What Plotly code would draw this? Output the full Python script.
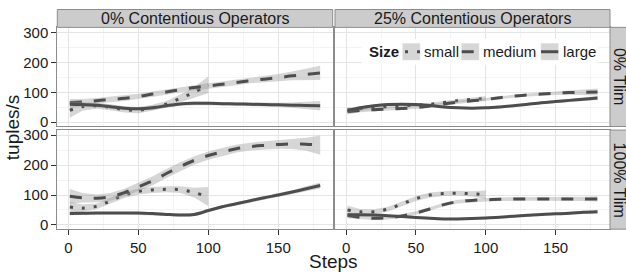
import plotly.graph_objects as go

W, H = 626, 274

# ---------------- data ----------------
steps_long = [1, 10, 20, 30, 40, 50, 60, 70, 80, 90, 100, 110, 120, 130, 140, 150, 160, 170, 180]
steps_short = [1, 10, 20, 30, 40, 50, 60, 70, 80, 90, 100]

sizes = ["small", "medium", "large"]
col_labels = ["0% Contentious Operators", "25% Contentious Operators"]
row_labels = ["0% Tlim", "100% Tlim"]
x_ticks = [0, 50, 100, 150]
y_ticks = [0, 100, 200, 300]

# 0% contentious, 0% Tlim
c0_t0_small = [40, 52, 55, 50, 42, 40, 48, 60, 80, 100, 125]
c0_t0_small_se = [25, 14, 10, 10, 10, 10, 10, 11, 13, 18, 28]
c0_t0_medium = [66, 68, 72, 76, 80, 86, 94, 101, 109, 116, 121, 127, 133, 139, 144, 149, 155, 160, 165]
c0_t0_medium_se = [12, 10, 9, 9, 9, 9, 9, 9, 9, 9, 9, 9, 9, 9, 10, 12, 15, 19, 24]
c0_t0_large = [60, 59, 57, 52, 47, 45, 48, 55, 61, 63, 63, 62, 61, 60, 59, 58, 57, 56, 55]
c0_t0_large_se = [11, 7, 6, 6, 6, 6, 6, 6, 6, 6, 6, 6, 6, 6, 6, 7, 9, 12, 16]

# 25% contentious, 0% Tlim
c25_t0_small = [42, 45, 48, 52, 55, 57, 60, 66, 72, 76, 79]
c25_t0_small_se = [8, 6, 5, 5, 5, 5, 5, 5, 5, 6, 9]
c25_t0_medium = [35, 39, 42, 44, 46, 49, 54, 61, 67, 72, 76, 82, 87, 91, 94, 97, 99, 100, 101]
c25_t0_medium_se = [9, 6, 5, 5, 5, 5, 5, 5, 5, 5, 5, 5, 5, 5, 5, 6, 7, 9, 12]
c25_t0_large = [38, 48, 55, 59, 60, 59, 56, 51, 48, 47, 48, 51, 55, 60, 65, 69, 73, 77, 81]
c25_t0_large_se = [7, 5, 4, 4, 4, 4, 4, 4, 4, 4, 4, 4, 4, 4, 4, 4, 5, 6, 7]

# 0% contentious, 100% Tlim
c0_t100_small = [60, 56, 62, 80, 100, 112, 117, 119, 118, 108, 95]
c0_t100_small_se = [18, 12, 10, 10, 10, 10, 10, 10, 11, 16, 32]
c0_t100_medium = [96, 91, 89, 94, 108, 127, 147, 172, 195, 216, 232, 244, 255, 262, 266, 269, 271, 270, 267]
c0_t100_medium_se = [24, 16, 13, 13, 13, 14, 15, 15, 15, 14, 14, 13, 13, 13, 13, 14, 17, 22, 32]
c0_t100_large = [38, 39, 40, 40, 40, 40, 38, 35, 33, 35, 48, 61, 71, 81, 91, 100, 110, 121, 132]
c0_t100_large_se = [6, 5, 5, 5, 5, 5, 5, 5, 5, 5, 5, 5, 5, 5, 5, 5, 6, 8, 10]

# 25% contentious, 100% Tlim
c25_t100_small = [50, 44, 44, 53, 70, 88, 100, 105, 106, 104, 101]
c25_t100_small_se = [14, 9, 8, 8, 8, 8, 8, 8, 8, 9, 14]
c25_t100_medium = [31, 25, 22, 24, 30, 40, 53, 68, 78, 82, 84, 86, 87, 87, 87, 87, 87, 87, 87]
c25_t100_medium_se = [9, 6, 6, 6, 6, 6, 6, 6, 6, 6, 6, 6, 6, 6, 6, 6, 6, 7, 9]
c25_t100_large = [34, 34, 33, 31, 28, 25, 22, 20, 20, 21, 23, 26, 29, 32, 35, 37, 39, 42, 44]
c25_t100_large_se = [6, 5, 4, 4, 4, 4, 4, 4, 4, 4, 4, 4, 4, 4, 4, 4, 4, 5, 6]

panels = [
    (0, 0, [(steps_short, c0_t0_small, c0_t0_small_se),
            (steps_long, c0_t0_medium, c0_t0_medium_se),
            (steps_long, c0_t0_large, c0_t0_large_se)]),
    (0, 1, [(steps_short, c25_t0_small, c25_t0_small_se),
            (steps_long, c25_t0_medium, c25_t0_medium_se),
            (steps_long, c25_t0_large, c25_t0_large_se)]),
    (1, 0, [(steps_short, c0_t100_small, c0_t100_small_se),
            (steps_long, c0_t100_medium, c0_t100_medium_se),
            (steps_long, c0_t100_large, c0_t100_large_se)]),
    (1, 1, [(steps_short, c25_t100_small, c25_t100_small_se),
            (steps_long, c25_t100_medium, c25_t100_medium_se),
            (steps_long, c25_t100_large, c25_t100_large_se)]),
]

# ---------------- styling ----------------
FONT = "Liberation Sans, Arial, Helvetica, sans-serif"
LINE_COLOR = "#4d4d4d"
RIBBON = "rgba(153,153,153,0.4)"
DASHES = {"small": "3px,9px", "medium": "12px,12px", "large": "solid"}
LW = 3.0


def px(x):
    return x / W


def py(y):
    return 1 - y / H


col_dom = [(57.3, 332.7), (335.0, 610.0)]
row_dom = [(25.0, 126.7), (130.4, 232.1)]
x_range = [-7.95, 188.95]
y_range = [-14.3, 317.3]

fig = go.Figure()

for (r, c, series) in panels:
    idx = r * 2 + c + 1
    xa = "x" if idx == 1 else f"x{idx}"
    ya = "y" if idx == 1 else f"y{idx}"
    for name, (xs, ys, se) in zip(sizes, series):
        upper = [v + s for v, s in zip(ys, se)]
        lower = [v - s for v, s in zip(ys, se)]
        fig.add_trace(go.Scatter(
            x=list(xs) + list(xs)[::-1], y=upper + lower[::-1],
            fill="toself", fillcolor=RIBBON, line=dict(width=0),
            mode="lines", hoverinfo="skip", showlegend=False, xaxis=xa, yaxis=ya))
        fig.add_trace(go.Scatter(
            x=xs, y=ys, mode="lines", name=name, showlegend=False,
            line=dict(color=LINE_COLOR, width=LW, dash=DASHES[name], shape="spline", smoothing=1),
            xaxis=xa, yaxis=ya))

layout_axes = {}
for r in range(2):
    for c in range(2):
        idx = r * 2 + c + 1
        xk = "xaxis" if idx == 1 else f"xaxis{idx}"
        yk = "yaxis" if idx == 1 else f"yaxis{idx}"
        xa_anchor = "y" if idx == 1 else f"y{idx}"
        ya_anchor = "x" if idx == 1 else f"x{idx}"
        layout_axes[xk] = dict(
            domain=[px(col_dom[c][0]), px(col_dom[c][1])], anchor=xa_anchor,
            range=x_range, tickvals=x_ticks, showticklabels=(r == 1),
            ticks="outside" if r == 1 else "", ticklen=5, tickcolor="#333333",
            tickfont=dict(family=FONT, size=15, color="#1a1a1a"),
            showgrid=True, gridcolor="#e5e5e5", gridwidth=1.2, zeroline=False,
            minor=dict(tickvals=[25, 75, 125, 175], showgrid=True, gridcolor="#f4f4f4", gridwidth=1),
            showline=True, linecolor="#8c8c8c", linewidth=1, mirror=True)
        layout_axes[yk] = dict(
            domain=[py(row_dom[r][1]), py(row_dom[r][0])], anchor=ya_anchor,
            range=y_range, tickvals=y_ticks, showticklabels=(c == 0),
            ticks="outside" if c == 0 else "", ticklen=5, tickcolor="#333333",
            tickfont=dict(family=FONT, size=15, color="#1a1a1a"),
            showgrid=True, gridcolor="#e5e5e5", gridwidth=1.2, zeroline=False,
            minor=dict(tickvals=[50, 150, 250], showgrid=True, gridcolor="#f4f4f4", gridwidth=1),
            showline=True, linecolor="#8c8c8c", linewidth=1, mirror=True)

shapes = []
annotations = []
for c in range(2):
    shapes.append(dict(type="rect", xref="paper", yref="paper",
                       x0=px(col_dom[c][0]), x1=px(col_dom[c][1]), y0=py(25), y1=py(6.7),
                       fillcolor="#cccccc", line=dict(color="#8c8c8c", width=1), layer="above"))
    annotations.append(dict(text=col_labels[c], xref="paper", yref="paper",
                            x=px((col_dom[c][0] + col_dom[c][1]) / 2), y=py(16),
                            xanchor="center", yanchor="middle", showarrow=False,
                            font=dict(family=FONT, size=16, color="#1a1a1a")))
for r in range(2):
    shapes.append(dict(type="rect", xref="paper", yref="paper",
                       x0=px(610), x1=px(632), y0=py(row_dom[r][1]), y1=py(row_dom[r][0]),
                       fillcolor="#cccccc", line=dict(color="#8c8c8c", width=1), layer="above"))
    annotations.append(dict(text=row_labels[r], xref="paper", yref="paper",
                            x=px(619), y=py((row_dom[r][0] + row_dom[r][1]) / 2),
                            xanchor="center", yanchor="middle", showarrow=False, textangle=90,
                            font=dict(family=FONT, size=16, color="#1a1a1a")))

annotations.append(dict(text="Steps", xref="paper", yref="paper", x=px(333), y=py(265),
                        xanchor="center", yanchor="middle", showarrow=False,
                        font=dict(family=FONT, size=19, color="#1a1a1a")))
annotations.append(dict(text="tuples/s", xref="paper", yref="paper", x=px(12), y=py(128.5),
                        xanchor="center", yanchor="middle", showarrow=False, textangle=-90,
                        font=dict(family=FONT, size=19, color="#1a1a1a")))

# legend (drawn inside the top-right panel)
shapes.append(dict(type="rect", xref="paper", yref="paper",
                   x0=px(361.7), x1=px(598.3), y0=py(63.3), y1=py(36.7),
                   fillcolor="white", line=dict(width=0), layer="above"))
annotations.append(dict(text="<b>Size</b>", xref="paper", yref="paper", x=px(366.5), y=py(50),
                        xanchor="left", yanchor="middle", showarrow=False,
                        font=dict(family=FONT, size=15, color="#1a1a1a")))
key_x = [402.7, 461.7, 541.0]
for name, kx in zip(sizes, key_x):
    shapes.append(dict(type="rect", xref="paper", yref="paper",
                       x0=px(kx), x1=px(kx + 17.3), y0=py(58.5), y1=py(41.5),
                       fillcolor="#d6d6d6", line=dict(color="#e0e0e0", width=0.5), layer="above"))
    start = kx + 2.3 if name == "small" else kx
    shapes.append(dict(type="line", xref="paper", yref="paper",
                       x0=px(start), x1=px(kx + 17.3), y0=py(50), y1=py(50),
                       line=dict(color=LINE_COLOR, width=LW, dash=DASHES[name]), layer="above"))
    annotations.append(dict(text=name, xref="paper", yref="paper", x=px(kx + 19.5), y=py(50),
                            xanchor="left", yanchor="middle", showarrow=False,
                            font=dict(family=FONT, size=15, color="#1a1a1a")))

fig.update_layout(
    width=W, height=H, margin=dict(l=0, r=0, t=0, b=0),
    paper_bgcolor="white", plot_bgcolor="white",
    showlegend=False, shapes=shapes, annotations=annotations,
    font=dict(family=FONT), **layout_axes)

fig.write_html("out.html", config={"displayModeBar": False},
               post_script="document.body.style.margin='0';document.body.style.padding='0';")
